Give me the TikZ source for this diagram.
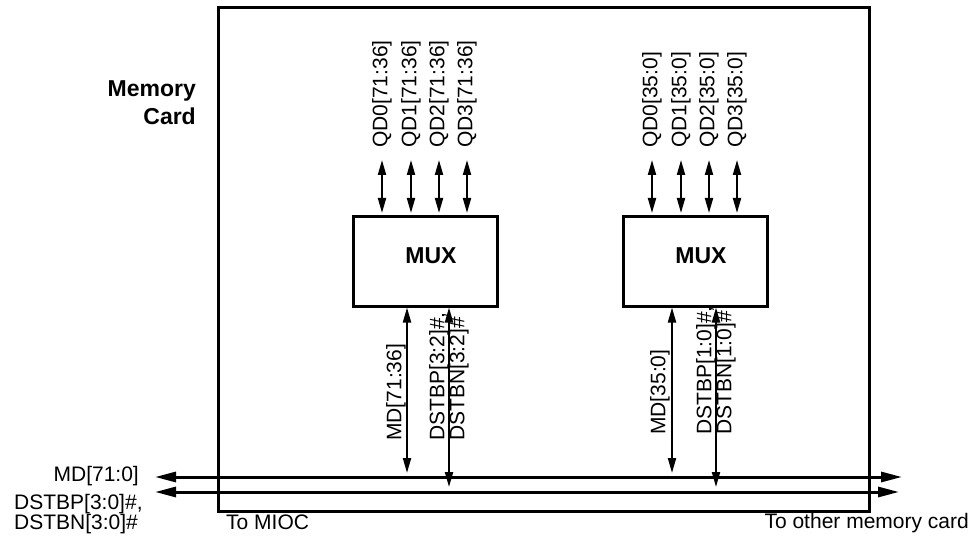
\documentclass[tikz,border=0pt]{standalone}
\usepackage{fontspec}
\setmainfont{Liberation Sans}
\usetikzlibrary{positioning,arrows.meta}

\begin{document}
\begin{tikzpicture}[
      x=1pt, y=-1pt,
      every node/.style={font=\fontsize{21pt}{20pt}\selectfont, inner sep=0pt},
      boldtext/.style={font=\bfseries\fontsize{23pt}{28pt}\selectfont},
      mux/.style={
        draw, line width=3pt,
        minimum width=144pt, minimum height=89pt
      },
      sig/.style={
        line width=2pt,
        {Triangle[length=15pt,width=8pt]}-{Triangle[length=15pt,width=8pt]}
      },
      bus/.style={
        line width=3pt,
        {Triangle[length=21pt,width=10pt]}-{Triangle[length=21pt,width=10pt]}
      },
      vlbl/.style={rotate=90, anchor=west, align=left}
    ]
      \useasboundingbox (0,0) rectangle (979,537);

      % memory card outline
      \draw[line width=3pt] (218,8) rectangle (869,511);
      \node[boldtext, anchor=north east, align=right] (card) at (196,80) {Memory\\Card};

      % the two multiplexers
      \node[mux, label={[boldtext, xshift=6pt, yshift=6pt]center:MUX}] (mux1) at (425,261.5) {};
      \node[mux, label={[boldtext, xshift=6pt, yshift=6pt]center:MUX}] (mux2) at (695,261.5) {};

      % QD lines above the muxes
      \foreach \i/\x in {0/382,1/411,2/439,3/467} {
        \node[vlbl] (qa\i) at (\x,148) {QD\i[71:36]};
        \draw[sig, shorten <=12pt, shorten >=2.5pt] (qa\i.west) -- (qa\i.west |- mux1.north);
      }
      \foreach \i/\x in {0/652,1/681,2/709,3/737} {
        \node[vlbl] (qb\i) at (\x,148) {QD\i[35:0]};
        \draw[sig, shorten <=12pt, shorten >=2.5pt] (qb\i.west) -- (qb\i.west |- mux2.north);
      }

      % system buses
      \coordinate (mdL) at (155,477);
      \coordinate (mdR) at (902,477);
      \coordinate (dsL) at (155,492);
      \coordinate (dsR) at (899,492);
      \draw[bus] (mdL) -- (mdR);
      \draw[bus] (dsL) -- (dsR);
      \node[anchor=base east] (mdname) at (139,481.5) {MD[71:0]};
      \node[anchor=north west, align=left] (dsname) at (14,494) {DSTBP[3:0]\#,\\DSTBN[3:0]\#};

      % taps from muxes down to buses
      \coordinate (tap1) at (407,473);
      \coordinate (tap2) at (449,487);
      \coordinate (tap3) at (672,473);
      \coordinate (tap4) at (716,487);
      \draw[sig] (mux1.south -| tap1) -- (tap1);
      \draw[sig] (mux1.south -| tap2) -- (tap2);
      \draw[sig] (mux2.south -| tap3) -- (tap3);
      \draw[sig] (mux2.south -| tap4) -- (tap4);
      \node[vlbl] (mdlab1) at (396,441) {MD[71:36]};
      \node[vlbl] (dslab1) at (449,441) {DSTBP[3:2]\#,\\DSTBN[3:2]\#};
      \node[vlbl] (mdlab2) at (660,435) {MD[35:0]};
      \node[vlbl] (dslab2) at (716,435) {DSTBP[1:0]\#,\\DSTBN[1:0]\#};

      \node[anchor=base west] (tomioc) at (226,529) {To MIOC};
      \node[anchor=base east] (toother) at (969,528) {To other memory card};
    \end{tikzpicture}
\end{document}
